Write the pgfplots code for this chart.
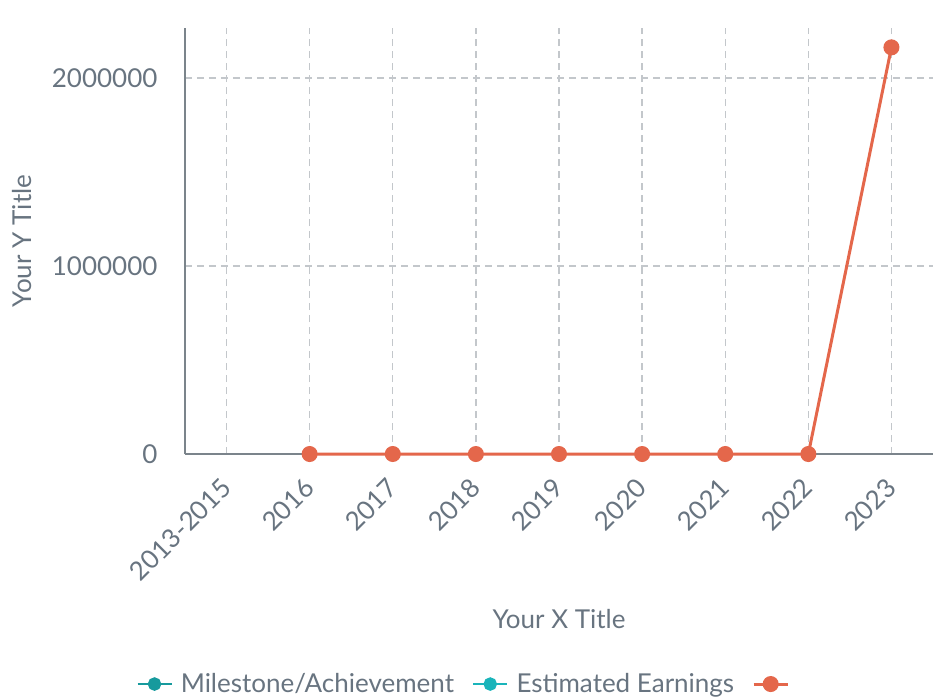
\documentclass[border=0pt]{standalone}
\usepackage{pgfplots}
\pgfplotsset{compat=1.18}
\usepackage{fontspec}
\setmainfont{Lato}
\definecolor{txt}{HTML}{687480}
\definecolor{axc}{HTML}{7B848B}
\definecolor{grd}{HTML}{C3C7CB}
\definecolor{org}{HTML}{E4674B}
\definecolor{tealA}{HTML}{179A9D}
\definecolor{tealB}{HTML}{1AB4BA}
\begin{document}
\begin{tikzpicture}
\useasboundingbox (-185pt,-243pt) rectangle (748pt,454pt);
\begin{axis}[
  at={(0pt,0pt)}, anchor=south west,
  scale only axis, width=748pt, height=426pt,
  xmin=-0.5, xmax=8.5, ymin=0, ymax=2266000,
  clip=false,
  axis x line=bottom, axis y line=left,
  axis line style={-, color=axc, line width=1.8pt},
  major tick length=0pt,
  xtick={0,...,8},
  xticklabels={2013-2015,2016,2017,2018,2019,2020,2021,2022,2023},
  ytick={0,1000000,2000000},
  scaled y ticks=false,
  /pgf/number format/assume math mode=true,
  yticklabel style={/pgf/number format/fixed, /pgf/number format/1000 sep={}, font=\fontsize{26}{30}\selectfont, text=txt, xshift=-24pt},
  xticklabel style={xshift=-7pt, yshift=-18pt, rotate=45, anchor=north east, font=\fontsize{26}{30}\selectfont, text=txt},
  grid=major,
  major grid style={color=grd, line width=1.3pt, dash pattern=on 7pt off 5pt},
  xlabel={Your X Title}, ylabel={Your Y Title},
  xlabel style={at={(axis description cs:0.5,-0.387)}, anchor=center, font=\fontsize{26}{30}\selectfont, text=txt},
  ylabel style={at={(axis description cs:-0.218,0.5)}, anchor=center, font=\fontsize{26}{30}\selectfont, text=txt},
  legend columns=3,
  legend style={draw=none, fill=none, at={(axis description cs:0.378,-0.54)}, anchor=center, font=\fontsize{26}{30}\selectfont, text=txt, /tikz/every even column/.append style={column sep=16pt}, /tikz/every odd column/.append style={column sep=6pt}},
  legend cell align=left,
  legend image code/.code={\draw[mark repeat=2,mark phase=2,#1] plot coordinates {(0pt,0pt) (17pt,0pt) (34pt,0pt)};},
]
\addlegendimage{color=tealA, line width=2.5pt, mark=*, mark size=5.5pt}
\addlegendentry{Milestone/Achievement}
\addlegendimage{color=tealB, line width=2.5pt, mark=*, mark size=5.5pt}
\addlegendentry{Estimated Earnings}
\addplot[color=org, line width=3pt, mark=*, mark size=6.5pt] coordinates {
  (1,0) (2,0) (3,0) (4,0) (5,0) (6,0) (7,0) (8,2163000)
};
\addlegendentry{}
\end{axis}
\end{tikzpicture}
\end{document}
